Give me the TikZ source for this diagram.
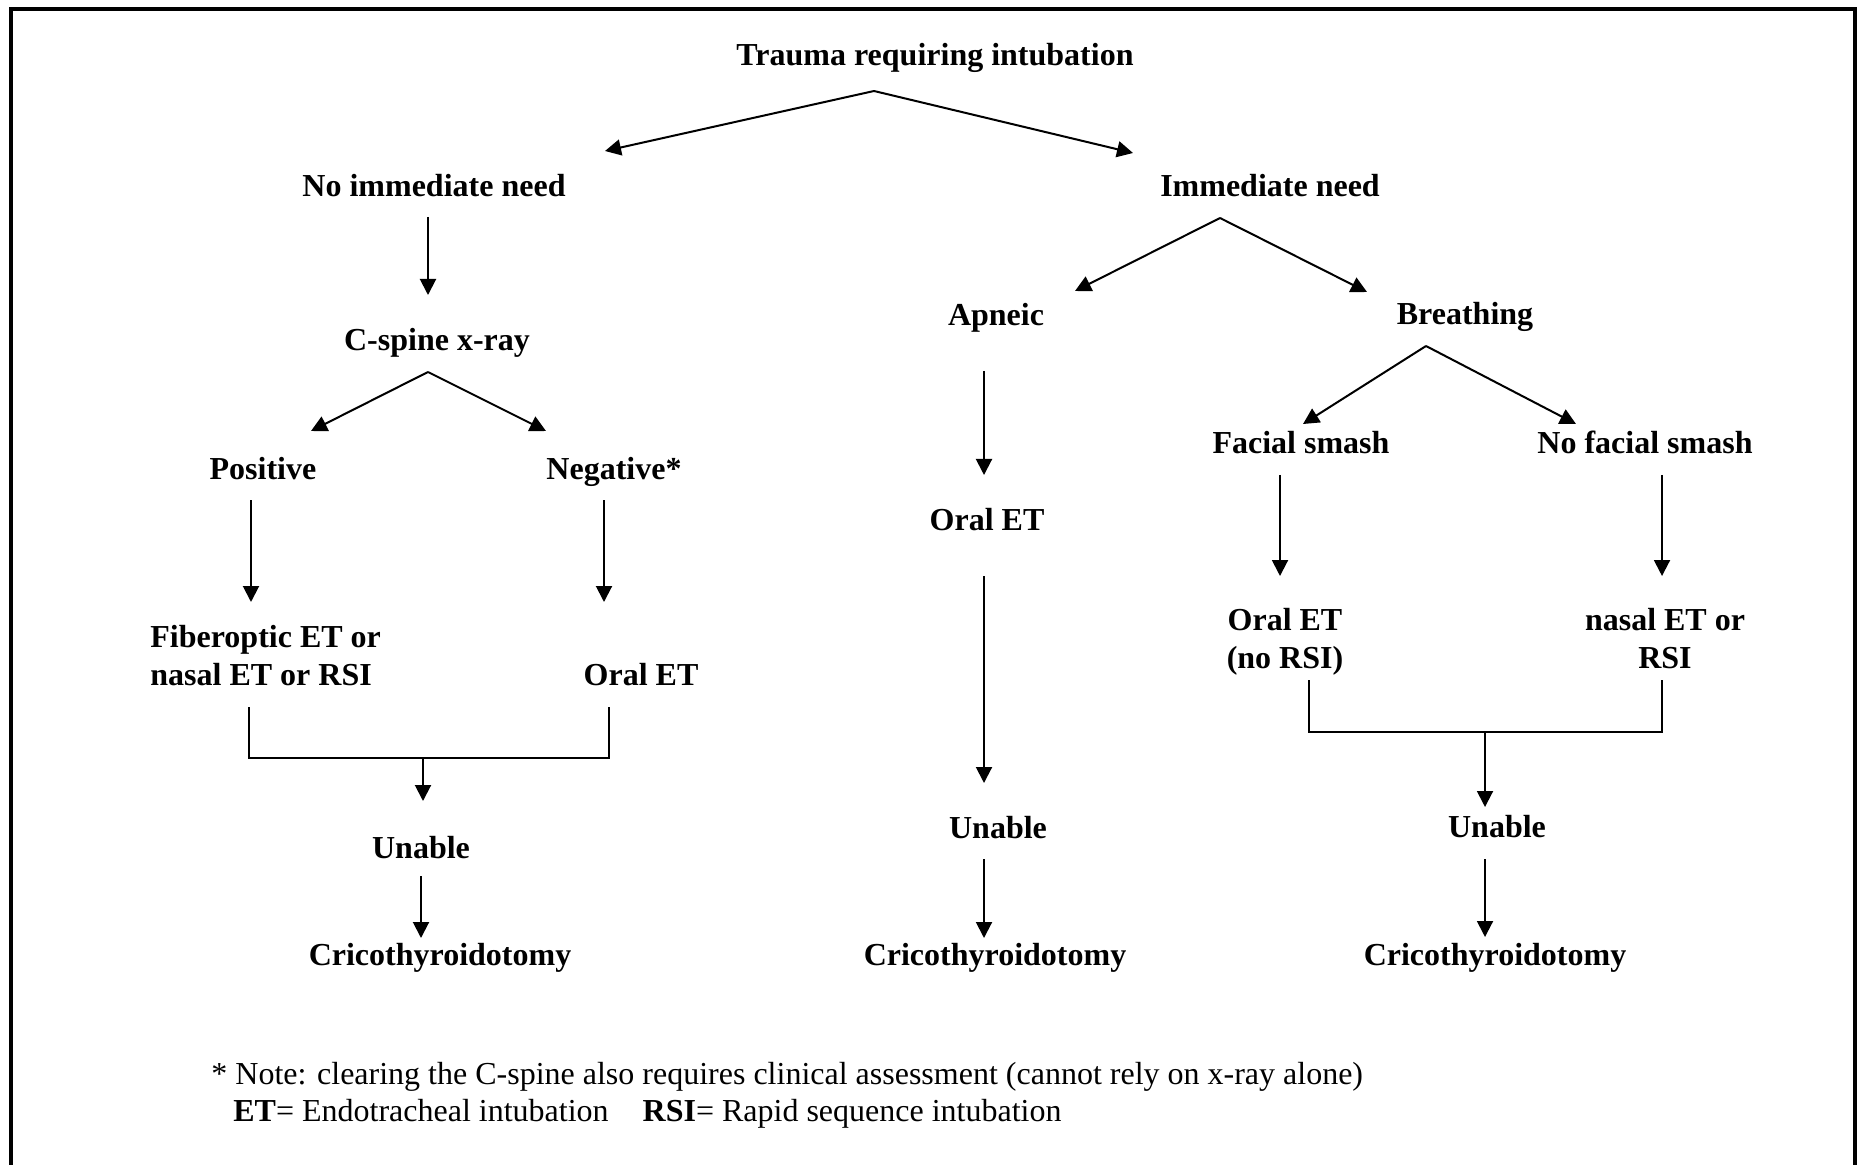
\documentclass[tikz,border=0pt]{standalone}
\usepackage{fontspec}
\setmainfont{Liberation Serif}
\usetikzlibrary{arrows.meta,calc}

\begin{document}
\begin{tikzpicture}[x=0.5pt,y=-0.5pt,
  lbl/.style={font=\fontsize{16}{19}\selectfont\bfseries, inner sep=0pt, anchor=base},
  notetext/.style={font=\fontsize{16}{18.5}\selectfont, inner sep=0pt, anchor=base west, align=left},
  arr/.style={line width=1pt, -{Triangle[length=8pt,width=8pt]}},
  ln/.style={line width=1pt},
  frame/.style={line width=2pt, line join=miter}]

% canvas and open-bottom frame
\fill[white] (0,0) rectangle (1861,1165);
\useasboundingbox (0,0) rectangle (1861,1165);
\draw[frame] (11,1175) -- (11,9) -- (1855,9) -- (1855,1175);

% labels (two-line labels are anchored on their last line)
\node[lbl] (trauma)   at (935,66)  {Trauma requiring intubation};
\node[lbl] (noimm)    at (434,197) {No immediate need};
\node[lbl] (imm)      at (1270,197) {Immediate need};
\node[lbl] (cspine)   at (437,351) {C-spine x-ray};
\node[lbl] (apneic)   at (996,326) {Apneic};
\node[lbl] (breath)   at (1465,325) {Breathing};
\node[lbl] (pos)      at (263,480) {Positive};
\node[lbl] (neg)      at (614,480) {Negative*};
\node[lbl] (facial)   at (1301,454) {Facial smash};
\node[lbl] (nofacial) at (1645,454) {No facial smash};
\node[lbl] (oralA)    at (987,530) {Oral ET};
\node[lbl, align=left, anchor=base west] (fiber) at (150,685) {Fiberoptic ET or\\nasal ET or RSI};
\node[lbl] (oralN)    at (641,685) {Oral ET};
\node[lbl, align=center] (oralF) at (1285,668) {Oral ET\\(no RSI)};
\node[lbl, align=center] (nasal) at (1665,668) {nasal ET or\\RSI};
\node[lbl] (unL) at (421,858) {Unable};
\node[lbl] (unM) at (998,838) {Unable};
\node[lbl] (unR) at (1497,837) {Unable};
\node[lbl] (crL) at (440,965) {Cricothyroidotomy};
\node[lbl] (crM) at (995,965) {Cricothyroidotomy};
\node[lbl] (crR) at (1495,965) {Cricothyroidotomy};

\node[notetext] (note) at (211,1121)
  {* Note: clearing the C-spine also requires clinical assessment (cannot rely on x-ray alone)\\
   \hspace*{11pt}\textbf{ET}= Endotracheal intubation\hspace*{17pt}\textbf{RSI}= Rapid sequence intubation};

% top split
\draw[arr] ($(trauma.base)+(-61,25)$) -- ($(noimm.base)+(171,-46)$);
\draw[arr] ($(trauma.base)+(-61,25)$) -- ($(imm.base)+(-137,-44)$);

% left branch
\draw[arr] ($(noimm.base)+(-6,20)$) -- ($(cspine.base)+(-9,-56)$);
\draw[arr] ($(cspine.base)+(-9,21)$) -- ($(pos.base)+(48,-49)$);
\draw[arr] ($(cspine.base)+(-9,21)$) -- ($(neg.base)+(-68,-49)$);
\draw[arr] ($(pos.base)+(-12,20)$) -- ($(fiber.base west)+(101,-83)$);
\draw[arr] ($(neg.base)+(-10,20)$) -- ($(oralN.base)+(-37,-83)$);
\draw[ln] ($(fiber.base west)+(99,22)$) |- ($(oralN.base)+(-32,73)$) -- ($(oralN.base)+(-32,22)$);
\draw[arr] ($(unL.base)+(2,-100)$) -- ($(unL.base)+(2,-57)$);
\draw[arr] ($(unL.base)+(0,18)$) -- ($(crL.base)+(-19,-27)$);

% right split
\draw[arr] ($(imm.base)+(-50,21)$) -- ($(apneic.base)+(79,-35)$);
\draw[arr] ($(imm.base)+(-50,21)$) -- ($(breath.base)+(-98,-33)$);

% apneic branch
\draw[arr] ($(apneic.base)+(-12,45)$) -- ($(oralA.base)+(-3,-55)$);
\draw[arr] ($(oralA.base)+(-3,46)$) -- ($(unM.base)+(-14,-55)$);
\draw[arr] ($(unM.base)+(-14,21)$) -- ($(crM.base)+(-11,-27)$);

% breathing branch
\draw[arr] ($(breath.base)+(-39,21)$) -- ($(facial.base)+(2,-30)$);
\draw[arr] ($(breath.base)+(-39,21)$) -- ($(nofacial.base)+(-69,-30)$);
\draw[arr] ($(facial.base)+(-21,21)$) -- ($(oralF.base)+(-5,-92)$);
\draw[arr] ($(nofacial.base)+(17,21)$) -- ($(nasal.base)+(-3,-92)$);
\draw[ln] ($(oralF.base)+(24,12)$) |- ($(nasal.base)+(-3,64)$) -- ($(nasal.base)+(-3,12)$);
\draw[arr] ($(unR.base)+(-12,-105)$) -- ($(unR.base)+(-12,-30)$);
\draw[arr] ($(unR.base)+(-12,22)$) -- ($(crR.base)+(-10,-28)$);
\end{tikzpicture}
\end{document}
